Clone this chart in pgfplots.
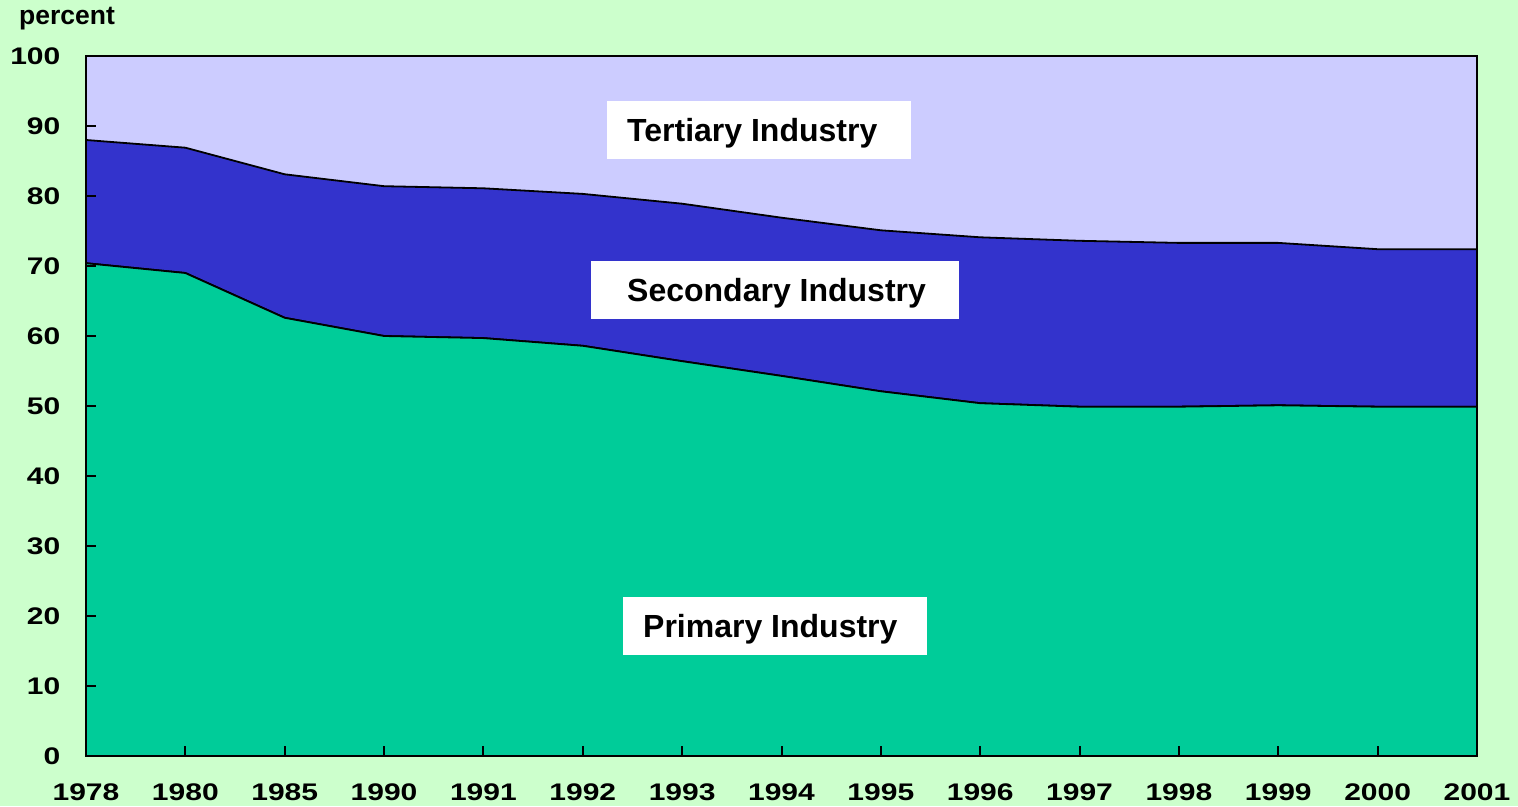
\documentclass[border=0pt]{standalone}
\usepackage{fontspec}
\setmainfont{Liberation Sans}
\usepackage{pgfplots}
\pgfplotsset{compat=1.18}
\definecolor{bgc}{HTML}{CCFFCC}
\definecolor{terc}{HTML}{CCCCFF}
\definecolor{secc}{HTML}{3333CC}
\definecolor{pric}{HTML}{00CC99}
\begin{document}
\begin{tikzpicture}[x=1pt,y=1pt]
\fill[bgc] (0,0) rectangle (1518,806);
\begin{axis}[
  at={(86pt,50pt)}, anchor=south west,
  scale only axis, width=1391pt, height=700pt,
  xmin=0, xmax=14, ymin=0, ymax=100,
  xtick={0,...,14},
  xticklabels={1978,1980,1985,1990,1991,1992,1993,1994,1995,1996,1997,1998,1999,2000,2001},
  ytick={0,10,...,100},
  xtick pos=bottom, ytick pos=left,
  tick align=inside, major tick length=10pt,
  tick style={line width=2pt, black},
  axis line style={line width=2.5pt},
  axis background/.style={fill=terc},
  axis on top=true,
  stack plots=y,
  /pgf/number format/assume math mode=true,
  tick label style={font=\fontsize{24}{28}\selectfont\bfseries, xscale=1.25},
  yticklabel style={xshift=-17pt},
  xticklabel style={yshift=-24pt},
]
\addplot[fill=pric, draw=black, line width=1.8pt] coordinates {
(0,70.4) (1,69.0) (2,62.6) (3,60.0) (4,59.7) (5,58.6) (6,56.4) (7,54.3) (8,52.1) (9,50.4) (10,49.9) (11,49.9) (12,50.1) (13,49.9) (14,49.9)
} \closedcycle;
\addplot[fill=secc, draw=black, line width=1.8pt] coordinates {
(0,17.6) (1,17.9) (2,20.5) (3,21.4) (4,21.4) (5,21.7) (6,22.5) (7,22.6) (8,23.0) (9,23.7) (10,23.7) (11,23.4) (12,23.2) (13,22.5) (14,22.5)
} \closedcycle;
\end{axis}
% annotation boxes (pixel coords, y flipped)
\fill[white] (607,{806-159}) rectangle (911,{806-101});
\node[anchor=base west, inner sep=0pt, font=\fontsize{32}{36}\selectfont\bfseries] at (627,{806-142}) {Tertiary Industry};
\fill[white] (591,{806-319}) rectangle (959,{806-261});
\node[anchor=base west, inner sep=0pt, font=\fontsize{32}{36}\selectfont\bfseries] at (627,{806-302}) {Secondary Industry};
\fill[white] (623,{806-655}) rectangle (927,{806-597});
\node[anchor=base west, inner sep=0pt, font=\fontsize{32}{36}\selectfont\bfseries] at (643,{806-638}) {Primary Industry};
\node[anchor=base west, inner sep=0pt, font=\fontsize{26.5}{30}\selectfont\bfseries] at (19,{806-25}) {percent};
\end{tikzpicture}
\end{document}
